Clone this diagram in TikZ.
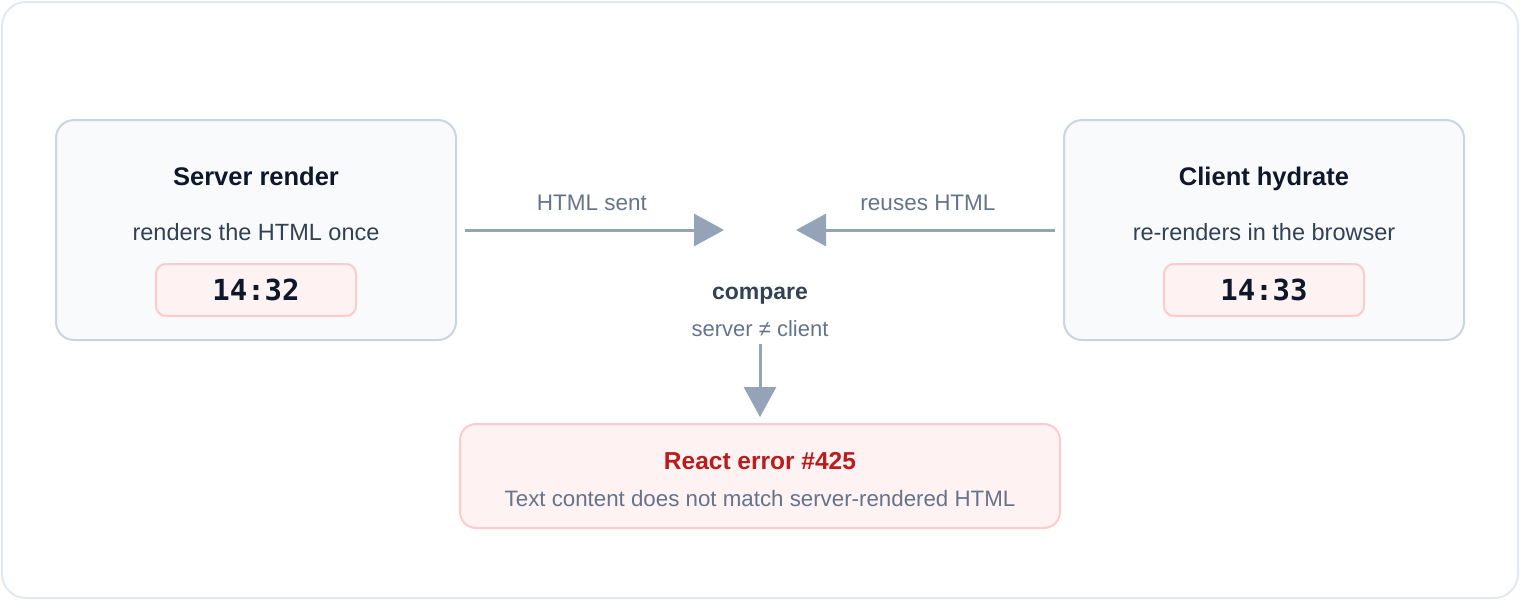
\documentclass[tikz,border=0pt]{standalone}
\usepackage{fontspec}
\setmainfont{Liberation Sans}
\newfontfamily\monofont{DejaVu Sans Mono}
\usetikzlibrary{arrows.meta}
\definecolor{cTitle}{HTML}{0F172A}
\definecolor{cSub}{HTML}{334155}
\definecolor{cLabel}{HTML}{64748B}
\definecolor{cArrow}{HTML}{94A3B8}
\definecolor{cBoxFill}{HTML}{F8FAFC}
\definecolor{cBoxLine}{HTML}{CBD5E1}
\definecolor{cRedFill}{HTML}{FEF2F2}
\definecolor{cRedLine}{HTML}{FECACA}
\definecolor{cRedText}{HTML}{B91C1C}
\definecolor{cFrame}{HTML}{E2E8F0}
\tikzset{
  panel/.style={draw=cBoxLine, fill=cBoxFill, line width=2pt, rounded corners=18pt,
    minimum width=400pt, minimum height=220pt, inner sep=0pt},
  timebox/.style={draw=cRedLine, fill=cRedFill, line width=2pt, rounded corners=10pt,
    minimum width=200pt, minimum height=52pt, inner sep=0pt},
  errbox/.style={draw=cRedLine, fill=cRedFill, line width=2pt, rounded corners=16pt,
    minimum width=600pt, minimum height=104pt, inner sep=0pt},
  title/.style={anchor=base, inner sep=0pt, text=cTitle, font=\fontsize{25.5}{30}\selectfont\bfseries},
  subtitle/.style={anchor=base, inner sep=0pt, text=cSub, font=\fontsize{23.5}{28}\selectfont},
  timetext/.style={anchor=base, inner sep=0pt, text=cTitle, font=\fontsize{29}{34}\selectfont\monofont\bfseries},
  label/.style={anchor=base, inner sep=0pt, text=cLabel, font=\fontsize{22.5}{27}\selectfont},
  flow/.style={draw=cArrow, line width=3pt, -{Triangle[length=30pt, width=32pt]}},
}
\begin{document}
\begin{tikzpicture}[x=1pt, y=-1pt]
\useasboundingbox (0,0) rectangle (1520,600);
\draw[cFrame, line width=2pt, rounded corners=24pt] (2,2) rectangle (1518,598);

% left panel
\node[panel] (server) at (256,230) {};
\node[title] (serverT) at (256,185) {Server render};
\node[subtitle] (serverS) at (256,240) {renders the HTML once};
\node[timebox] (serverTB) at (256,290) {};
\node[timetext] (serverTime) at (256,300) {14:32};

% right panel
\node[panel] (client) at (1264,230) {};
\node[title] (clientT) at (1264,185) {Client hydrate};
\node[subtitle] (clientS) at (1264,240) {re-renders in the browser};
\node[timebox] (clientTB) at (1264,290) {};
\node[timetext] (clientTime) at (1264,300) {14:33};

% centre
\coordinate (inL) at (724,230);
\coordinate (inR) at (796,230);
\node[label] (sentL) at (592,210) {HTML sent};
\node[label] (reuseL) at (928,210) {reuses HTML};
\node[anchor=base, inner sep=0pt, text=cSub, font=\fontsize{23}{27}\selectfont\bfseries] (cmp) at (760,299) {compare};
\node[label, font=\fontsize{22}{26}\selectfont] (diff) at (760,336) {server ≠ client};

% error box
\node[errbox] (err) at (760,476) {};
\node[anchor=base, inner sep=0pt, text=cRedText, font=\fontsize{24.5}{29}\selectfont\bfseries] (errT) at (760,469) {React error \#425};
\node[label, font=\fontsize{22.3}{27}\selectfont] (errS) at (760,506) {Text content does not match server-rendered HTML};

% connectors
\draw[flow] ([xshift=8pt]server.east) -- (inL);
\draw[flow] ([xshift=-8pt]client.west) -- (inR);
\draw[flow, shorten >=6pt] ([yshift=-8pt]diff.south) -- (err.north);
\end{tikzpicture}
\end{document}
